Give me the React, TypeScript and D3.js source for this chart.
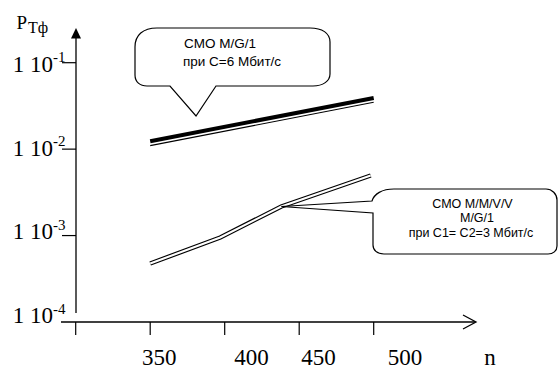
import React from "react";
import * as d3 from "d3";

// ---- data ----
const xTicks = [300, 350, 400, 450, 500];
const xTickLabels = ["350", "400", "450", "500"];
const xLabelAt = [356, 418, 463, 521]; // label centres in n-units (as placed in the original)
const yTicks = [1e-1, 1e-2, 1e-3];
const yLabelValues = [1e-1, 1e-2, 1e-3, 1e-4];
const yLabelExp = ["-1", "-2", "-3", "-4"];

// M/G/1 at C=6 Mbit/s (thick + thin companion line)
const mg1N = [350, 500];
const mg1Thick = [0.01233, 0.0391];
const mg1Thin = [0.01097, 0.0348];

// M/M/V/V + M/G/1 at C1=C2=3 Mbit/s (double line)
const mmvvN = [350, 397, 438, 498];
const mmvvP = [4.75e-4, 9.5e-4, 2.17e-3, 4.95e-3];

const callout1 = ["СМО М/G/1", "при С=6 Мбит/с"];
const callout2 = ["СМО М/М/V/V", "М/G/1", "при С1= С2=3 Мбит/с"];

const W = 559;
const H = 369;

export default function App() {
  const x = d3.scaleLinear().domain([300, 500]).range([75.7, 373.7]);
  const y = d3.scaleLog().domain([1e-4, 1e-1]).range([322, 62.7]);
  const yLab = d3.scaleLog().domain([1e-4, 1e-1]).range([323.3, 71.7]);

  const line = d3
    .line<[number, number]>()
    .x((d) => x(d[0]))
    .y((d) => y(d[1]));

  const thickPath = line(mg1N.map((n, i) => [n, mg1Thick[i]]) as [number, number][]) || "";
  const thinPath = line(mg1N.map((n, i) => [n, mg1Thin[i]]) as [number, number][]) || "";
  const dblPath = line(mmvvN.map((n, i) => [n, mmvvP[i]]) as [number, number][]) || "";

  const serif = "Liberation Serif, Times New Roman, serif";
  const sans = "Liberation Sans, Arial, sans-serif";

  const tip2x = x(mmvvN[2]);
  const tip2y = y(mmvvP[2]);

  const box1 =
    "M135,47 C135,35 143,28 157,28 L310,28 C322,28 330,33 330,42 L330,74 C330,81 323,86 313,86 " +
    "L216,86 L196,116 L170,86 L147,86 C140,86 135,82 135,75 Z";
  const box2 =
    `M372,201 C374,194 382,189 394,189 L546,189 C552,189 557,194 557,200 L557,246 ` +
    `C557,251 553,254 548,254 L384,254 C377,254 373,250 373,245 L373,213 L${tip2x},${tip2y} Z`;

  return (
    <svg
      width={W}
      height={H}
      style={{ position: "absolute", left: 0, top: 0, background: "#fff" }}
    >
      <rect width={W} height={H} fill="#fff" />

      {/* Y axis */}
      <line x1={76} y1={36} x2={76} y2={313} stroke="#000" strokeWidth={1.3} />
      <path d="M76,28 L71,38.5 L81,38.5 Z" fill="#000" />
      {yTicks.map((t) => (
        <line key={t} x1={62} x2={76} y1={y(t)} y2={y(t)} stroke="#000" strokeWidth={1.2} />
      ))}
      {yLabelValues.map((v, i) => (
        <g key={v} fontFamily={serif} fill="#000">
          <text x={53} y={yLab(v)} fontSize={23} textAnchor="end">
            1 10
          </text>
          <text x={53} y={yLab(v) - 9.5} fontSize={15}>
            {yLabelExp[i]}
          </text>
        </g>
      ))}
      <text x={16.5} y={28.5} fontFamily={serif} fontSize={19}>
        P
      </text>
      <text x={28} y={32.5} fontFamily={serif} fontSize={16}>
        Тф
      </text>

      {/* X axis */}
      <line x1={61} x2={475} y1={322} y2={322} stroke="#000" strokeWidth={1.3} />
      <path d="M463,315 L476,322 L463,329" fill="none" stroke="#000" strokeWidth={1.3} />
      {xTicks.map((t) => (
        <line key={t} x1={x(t)} x2={x(t)} y1={322} y2={335} stroke="#000" strokeWidth={1.2} />
      ))}
      {xTickLabels.map((l, i) => (
        <text
          key={l}
          x={x(xLabelAt[i])}
          y={365}
          fontFamily={serif}
          fontSize={23}
          textAnchor="middle"
        >
          {l}
        </text>
      ))}
      <text x={490} y={365} fontFamily={serif} fontSize={23} textAnchor="middle">
        n
      </text>

      {/* series */}
      <path d={thickPath} fill="none" stroke="#000" strokeWidth={4} />
      <path d={thinPath} fill="none" stroke="#000" strokeWidth={1.1} />
      <path d={dblPath} fill="none" stroke="#000" strokeWidth={4.4} />
      <path d={dblPath} fill="none" stroke="#fff" strokeWidth={2.1} />

      {/* callouts */}
      <path d={box1} fill="#fff" stroke="#000" strokeWidth={1.2} />
      <text x={220} y={48} fontFamily={sans} fontSize={13.5} textAnchor="middle">
        {callout1[0]}
      </text>
      <text x={232} y={66} fontFamily={sans} fontSize={13.5} textAnchor="middle">
        {callout1[1]}
      </text>

      <path d={box2} fill="#fff" stroke="#000" strokeWidth={1.2} />
      <text x={472.5} y={208} fontFamily={sans} fontSize={12.5} textAnchor="middle">
        {callout2[0]}
      </text>
      <text x={477} y={222} fontFamily={sans} fontSize={12.5} textAnchor="middle">
        {callout2[1]}
      </text>
      <text x={471} y={236.5} fontFamily={sans} fontSize={12.5} textAnchor="middle">
        {callout2[2]}
      </text>
    </svg>
  );
}
